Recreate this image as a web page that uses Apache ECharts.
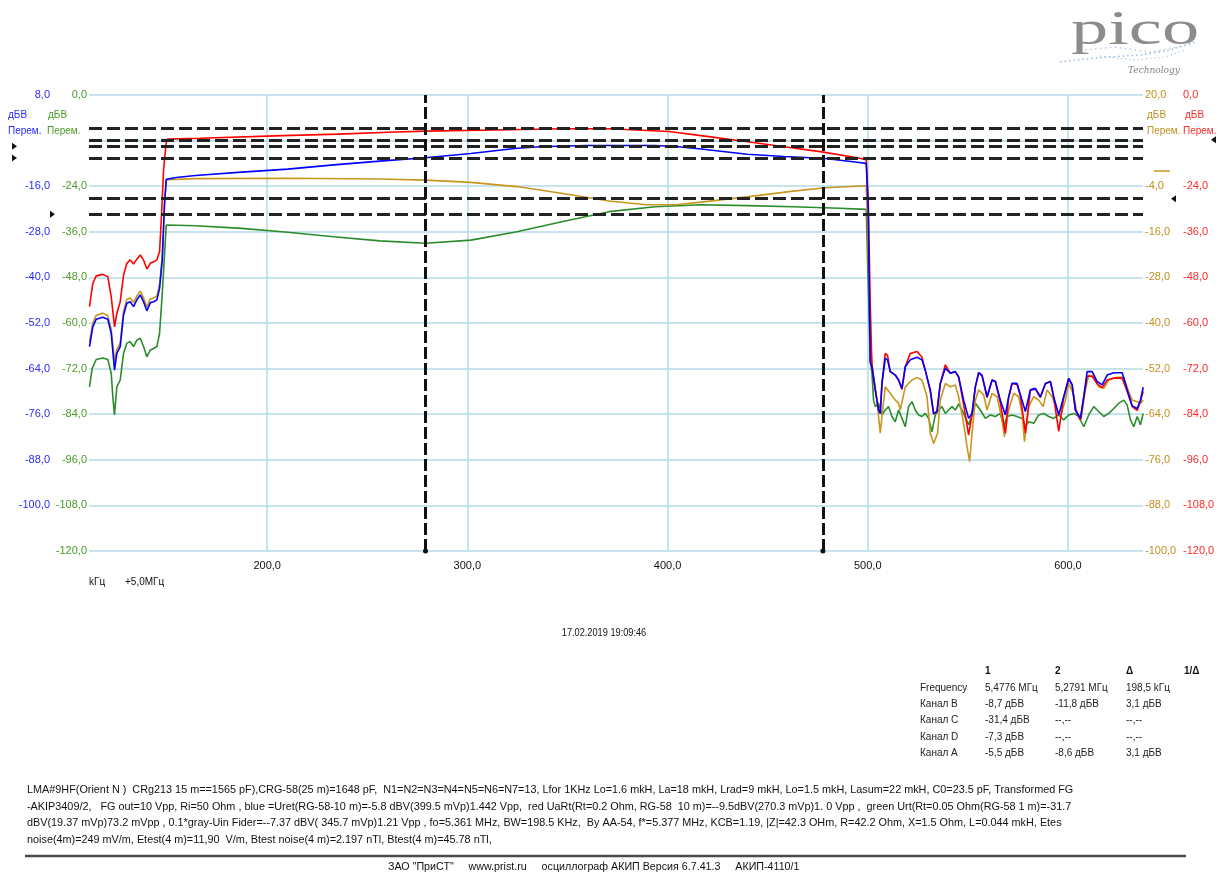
<!DOCTYPE html>
<html><head><meta charset="utf-8">
<script src="https://cdn.jsdelivr.net/npm/echarts@6/dist/echarts.min.js"></script>
<style>html,body{margin:0;padding:0;background:#fff}#c{width:1220px;height:872px}</style>
</head><body><div id="c"></div>
<script>
// ---------------- DATA ----------------
const xTicks = [200, 300, 400, 500, 600];
const greenTicks = [0, -24, -36, -48, -60, -72, -84, -96, -108, -120];
const blueTicks  = [8, -16, -28, -40, -52, -64, -76, -88, -100];
const goldTicks  = [20, -4, -16, -28, -40, -52, -64, -76, -88, -100];
const redTicks   = [0, -24, -36, -48, -60, -72, -84, -96, -108, -120];

const cursorFreq = [477.6, 279.1];
const markA = [-5.5, -8.6];   // blue
const markB = [-8.7, -11.8];  // red
const markC = [-31.4];        // green
const markD = [-7.3];         // gold

const redF = [111.25,112.9,114.6,117.9,120.4,122.1,123.75,124.9,126.6,128.25,129.9,131.6,133.25,134.9,136.6,138.25,139.9,141.6,143.25,144.9,146.25,147.1,148.25,149.6,
  150.25,166.5,207.75,235.25,260.75,279,313.25,347.75,370.75,384.75,400.75,416.75,437.25,458.25,476.25,494.75,499.25,500.25,501.25,
  502.1,503.75,505.4,506.25,507.1,508.75,509.9,511.25,513.75,515.4,517.1,518.75,521.25,524.6,527.1,528.75,531.25,532.9,534.6,536.25,538.75,541.25,543.75,545.4,547.9,550.4,552.1,553.75,555.4,557.1,559.6,562.1,563.75,566.25,568.75,570.4,572.1,574.6,576.25,578.75,581.25,583.75,586.25,588.75,591.25,592.9,595.4,597.9,600.4,602.1,603.75,606.25,607.9,609.6,612.1,614.6,617.1,619.6,622.9,627.1,629.6,632.1,634.6,636.25,637.6];
const redV = [-55.7,-49.6,-47.6,-47.2,-47.8,-53.1,-61.0,-57.5,-54.4,-47.4,-44.3,-43.4,-44.5,-43.2,-42.1,-43.4,-45.8,-44.3,-43.9,-43.4,-41.2,-32.9,-19.7,-12.3,
  -11.6,-11.4,-10.7,-10.3,-9.8,-9.5,-9.2,-8.9,-8.9,-9.2,-9.6,-10.7,-12.1,-13.6,-14.9,-16.5,-17.0,-28,-55,
  -71.5,-77.6,-82.9,-83.8,-75.9,-68.0,-68.5,-72.8,-73.7,-75.0,-77.5,-71.5,-68.0,-67.5,-69.0,-72.6,-78.0,-84.0,-83.3,-75.9,-71.0,-73.2,-72.8,-74.3,-81.5,-89.5,-84.0,-76.8,-73.1,-73.9,-79.6,-75.0,-75.4,-81.0,-89.0,-79.6,-75.9,-76.2,-79.2,-89.0,-77.6,-77.4,-79.6,-76.0,-75.4,-79.6,-88.5,-79.6,-74.6,-76.3,-83.0,-85.5,-79.6,-74.0,-74.0,-76.0,-77.0,-75.0,-74.5,-74.5,-78.0,-82.0,-83.0,-80.5,-78.0];

const blueF = [111.25,112.9,114.6,117.9,120.4,122.1,123.75,124.9,126.6,128.25,129.9,131.6,133.25,134.9,136.6,138.25,139.9,141.6,143.25,144.9,146.25,147.6,148.75,149.6,
  154.6,164.25,187.25,210.25,233.25,256.25,279,301.75,324.75,336.25,359.25,393.75,405.25,416.75,439.75,458.25,478.75,494.75,499.25,500.25,501.25,
  502.1,503.75,505.4,506.25,507.1,508.75,509.9,511.25,513.75,515.4,517.1,518.75,521.25,524.6,527.1,528.75,531.25,532.9,534.6,536.25,538.75,541.25,543.75,545.4,547.9,550.4,552.1,553.75,555.4,557.1,559.6,562.1,563.75,566.25,568.75,570.4,572.1,574.6,576.25,578.75,581.25,583.75,586.25,588.75,591.25,592.9,595.4,597.9,600.4,602.1,603.75,606.25,607.9,609.6,612.1,614.6,617.1,619.6,622.9,627.1,629.6,632.1,634.6,636.25,637.6];
const blueV = [-58.2,-53.0,-51.0,-50.5,-51.0,-54.7,-64.4,-60.0,-58.2,-49.9,-46.8,-46.4,-47.7,-45.9,-44.6,-46.4,-48.8,-46.7,-46.4,-45.9,-42.9,-35.4,-20.5,-14.2,
  -13.7,-13.2,-12.3,-11.5,-10.4,-9.4,-8.5,-7.4,-6.0,-5.6,-5.3,-5.3,-5.6,-6.2,-7.6,-8.2,-8.7,-9.7,-10.0,-22,-62.5,
  -63.5,-69.6,-74.9,-75.8,-67.9,-61.3,-61.7,-64.8,-65.7,-67.0,-69.2,-63.5,-61.7,-61.0,-61.7,-64.4,-69.6,-75.8,-75.3,-67.9,-63.9,-65.2,-64.8,-66.1,-72.3,-77.1,-75.8,-68.8,-65.1,-65.7,-71.4,-67.0,-67.4,-72.3,-76.2,-71.4,-67.9,-67.9,-70.9,-75.3,-69.6,-69.2,-71.4,-67.9,-67.4,-71.4,-76.2,-71.4,-66.6,-68.3,-74.9,-77.1,-71.4,-64.8,-64.8,-67.4,-68.3,-65.7,-65.1,-65.1,-69.6,-73.8,-74.5,-72.3,-68.9];

const goldF = [111.25,112.9,114.6,117.9,120.4,122.1,123.75,124.9,126.6,128.25,129.9,131.6,133.25,134.9,136.6,138.25,139.9,141.6,143.25,144.9,146.25,147.6,148.75,149.6,
  164.25,210.25,256.25,279,301.75,324.75,347.75,370.75,389.25,405.25,416.75,439.75,462.75,478.75,499.25,500.25,501.25,
  502.1,504.6,506.25,507.1,508.75,511.25,513.75,515.4,516.25,518.75,522.1,524.6,527.1,529.6,531.25,532.9,534.9,536.25,538.75,541.25,543.75,545.4,547.9,549.6,550.9,552.1,553.75,555.4,557.9,559.6,562.1,564.6,567.1,568.3,570.4,572.9,575.4,577.1,578.3,580.4,582.9,585.4,587.6,589.6,592.1,594.6,596.25,598.75,600.4,602.6,604.6,606.6,608.75,610.4,612.9,615.4,617.9,620.4,624.6,627.9,630.4,632.1,634.6,636.25,637.6];
const goldV = [-45.0,-40.0,-38.0,-37.4,-38.0,-41.6,-50.0,-47.0,-45.2,-36.9,-33.8,-33.4,-34.6,-32.9,-31.6,-33.4,-35.8,-33.7,-33.4,-32.9,-29.9,-22.4,-8.0,-2.3,
  -2.0,-1.9,-2.1,-2.4,-3.0,-4.1,-5.9,-7.9,-8.9,-8.8,-8.2,-6.8,-5.3,-4.4,-3.9,-20,-45,
  -50.6,-60.3,-69.0,-64.6,-56.8,-58.5,-60.3,-61.1,-62.9,-56.8,-55.0,-54.3,-55.0,-59.4,-69.0,-71.7,-69.0,-60.3,-55.9,-56.8,-56.3,-59.4,-66.4,-72.6,-76.5,-69.0,-60.3,-57.6,-58.9,-62.9,-58.5,-59.4,-65.5,-69.9,-62.9,-58.5,-59.4,-63.8,-71.2,-62.0,-59.4,-60.3,-62.0,-57.6,-59.4,-62.9,-64.6,-60.3,-55.9,-58.5,-63.8,-65.1,-57.6,-53.7,-54.1,-56.8,-57.2,-55.0,-54.3,-54.3,-58.1,-60.3,-60.7,-61.1,-60.3];

const greenF = [111.25,112.6,114.6,117.9,120.4,122.1,122.9,123.75,124.9,126.6,128.25,129.9,131.6,133.25,134.9,136.6,138.25,139.9,141.6,143.25,144.9,146.25,147.6,148.75,149.6,
  164.25,187.25,210.25,233.25,256.25,279,301.75,324.75,347.75,370.75,393.75,416.75,439.75,462.75,485.75,499.25,500.25,501.25,
  502.1,502.9,503.75,505.4,507.1,508.75,510.4,512.1,513.75,515.4,517.1,518.75,520.4,522.1,523.75,525.4,527.1,528.75,530.4,532.1,533.75,535.4,537.1,538.75,540.4,542.1,543.75,545.4,547.9,550.4,552.1,553.75,556.25,558.75,561.25,563.75,566.25,567.9,569.6,572.1,574.6,577.1,578.75,580.4,582.9,585.4,587.9,590.4,592.9,595.4,597.9,600.4,602.9,605.4,607.9,610.4,612.9,615.4,617.9,620.4,622.9,625.4,627.9,629.6,631.25,632.9,634.6,636.25,637.6];
const greenV = [-76.8,-71.9,-69.6,-69.2,-69.6,-73.2,-79.4,-84.2,-76.8,-75.0,-68.0,-65.3,-64.9,-66.2,-64.5,-64.0,-66.2,-68.9,-67.1,-66.7,-66.2,-62.7,-52.2,-41.7,-34.2,
  -34.4,-35.1,-36.1,-37.3,-38.4,-39.0,-38.2,-36.0,-33.3,-30.7,-29.4,-28.9,-29.1,-29.4,-29.8,-30.1,-50,-69.7,
  -73.2,-80.3,-82.0,-81.1,-84.2,-82.9,-82.0,-84.6,-86.0,-82.9,-85.1,-87.3,-82.0,-80.7,-82.9,-84.2,-84.6,-83.8,-85.1,-88.6,-84.2,-82.9,-82.0,-83.8,-82.9,-82.0,-82.9,-81.3,-83.8,-86.8,-84.2,-81.1,-82.9,-85.1,-84.2,-84.6,-83.8,-87.3,-84.6,-84.2,-84.6,-85.1,-87.3,-86.0,-86.4,-84.2,-83.8,-84.6,-85.1,-84.2,-85.5,-84.2,-83.8,-84.6,-87.3,-84.2,-82.0,-83.3,-84.6,-83.8,-82.5,-81.1,-80.3,-81.6,-85.5,-87.3,-84.6,-86.8,-83.8];

const tableHead = ['1', '2', 'Δ', '1/Δ'];
const tableRows = [
  ['Frequency', '5,4776 МГц', '5,2791 МГц', '198,5 kГц'],
  ['Канал B', '-8,7 дБВ', '-11,8 дБВ', '3,1 дБВ'],
  ['Канал C', '-31,4 дБВ', '--,--', '--,--'],
  ['Канал D', '-7,3 дБВ', '--,--', '--,--'],
  ['Канал A', '-5,5 дБВ', '-8,6 дБВ', '3,1 дБВ']
];
const notes = [
  'LMA#9HF(Orient N )  CRg213 15 m==1565 pF),CRG-58(25 m)=1648 pF,  N1=N2=N3=N4=N5=N6=N7=13, Lfor 1KHz Lo=1.6 mkH, La=18 mkH, Lrad=9 mkH, Lo=1.5 mkH, Lasum=22 mkH, C0=23.5 pF, Transformed FG',
  '-AKIP3409/2,   FG out=10 Vpp, Ri=50 Ohm , blue =Uret(RG-58-10 m)=-5.8 dBV(399.5 mVp)1.442 Vpp,  red UaRt(Rt=0.2 Ohm, RG-58  10 m)=--9.5dBV(270.3 mVp)1. 0 Vpp ,  green Urt(Rt=0.05 Ohm(RG-58 1 m)=-31.7',
  'dBV(19.37 mVp)73.2 mVpp , 0.1*gray-Uin Fider=--7.37 dBV( 345.7 mVp)1.21 Vpp , fo=5.361 MHz, BW=198.5 KHz,  By AA-54, f*=5.377 MHz, KCB=1.19, |Z|=42.3 OHm, R=42.2 Ohm, X=1.5 Ohm, L=0.044 mkH, Etes',
  'noise(4m)=249 mV/m, Etest(4 m)=11,90  V/m, Btest noise(4 m)=2.197 nTl, Btest(4 m)=45.78 nTl,'
];
const footer = 'ЗАО "ПриСТ"     www.prist.ru     осциллограф АКИП Версия 6.7.41.3     АКИП-4110/1';
const dateText = '17.02.2019 19:09:46';

// ---------------- CHART ----------------
const C = { red: '#ff0000', blue: '#0000ff', green: '#2a8c2a', gold: '#c8961e',
            redT: '#ff2a2a', blueT: '#2a2aff', greenT: '#4c9a2a', goldT: '#c09020' };
const FONT = 'Liberation Sans';
const gridColor = '#b5dbe8';
const fmt = v => Number(v).toFixed(1).replace('.', ',');
const zip = (F, V) => F.map((f, i) => [f, V[i]]);

const chart = echarts.init(document.getElementById('c'), null, { renderer: 'canvas', width: 1220, height: 872 });

function yAxis(pos, offset, min, max, ticks, color, split) {
  return {
    type: 'value', position: pos, offset: offset, min: min, max: max, interval: 12,
    axisLine: { show: false }, axisTick: { show: false },
    splitLine: { show: split, lineStyle: { color: gridColor, width: 1.5 } },
    axisLabel: { customValues: ticks, formatter: fmt, color: color, margin: 2, fontFamily: FONT, fontSize: 11 }
  };
}
const hDash = { color: '#222', width: 3, type: [13, 5] };
function hMarks(vals) {
  return { silent: true, symbol: 'none', animation: false, label: { show: false },
           lineStyle: hDash, data: vals.map(v => ({ yAxis: v })) };
}
function lineSeries(name, F, V, color, yIdx, marks) {
  const s = { name: name, type: 'line', data: zip(F, V), yAxisIndex: yIdx, showSymbol: false, symbol: 'none',
              animation: false, lineStyle: { color: color, width: 1.6 }, itemStyle: { color: color }, clip: true };
  if (marks) s.markLine = marks;
  return s;
}

const option = {
  backgroundColor: '#ffffff',
  animation: false,
  grid: { left: 89, top: 95, width: 1054, height: 456 },
  xAxis: {
    type: 'value', min: 111, max: 637.5,
    axisLine: { show: false },
    axisTick: { show: false, customValues: xTicks },
    splitLine: { show: true, lineStyle: { color: gridColor, width: 1.5 } },
    axisLabel: { customValues: xTicks, formatter: fmt, color: '#111', margin: 9, fontFamily: FONT, fontSize: 11 }
  },
  yAxis: [
    yAxis('left', 0, -120, 0, greenTicks, C.greenT, true),
    yAxis('left', 37, -112, 8, blueTicks, C.blueT, false),
    yAxis('right', 0, -100, 20, goldTicks, C.goldT, false),
    yAxis('right', 38, -120, 0, redTicks, C.redT, false)
  ],
  series: [
    lineSeries('Канал C', greenF, greenV, C.green, 0, hMarks(markC)),
    lineSeries('Канал D', goldF, goldV, C.gold, 2, hMarks(markD)),
    lineSeries('Канал B', redF, redV, C.red, 3, hMarks(markB)),
    lineSeries('Канал A', blueF, blueV, C.blue, 1, {
      silent: true, animation: false, label: { show: false },
      data: markA.map(v => ({ yAxis: v, symbol: 'none', lineStyle: hDash }))
        .concat(cursorFreq.map(f => ({ xAxis: f })) ),
      symbol: ['circle', 'none'], symbolSize: 5,
      lineStyle: { color: '#111', width: 3, type: [12, 4] },
      itemStyle: { color: '#333' }
    })
  ]
};
chart.setOption(option);

// ---------------- DECORATIONS ----------------
const g = [];
function txt(x, y, s, opt) {
  opt = opt || {};
  g.push({ type: 'text', x: x, y: y, silent: true, z: 100,
    style: { text: s, fill: opt.fill || '#111', fontFamily: opt.family || FONT, fontSize: opt.size || 10,
             fontWeight: opt.weight || 'normal', fontStyle: opt.style || 'normal',
             textAlign: opt.align || 'left', textVerticalAlign: 'middle' },
    scaleX: opt.sx || 1, scaleY: opt.sy || 1 });
}
// unit labels
txt(8, 115, 'дБВ', { fill: C.blueT, size: 10 });
txt(48, 115, 'дБВ', { fill: C.greenT, size: 10 });
txt(8, 131, 'Перем.', { fill: C.blueT, size: 10 });
txt(47, 131, 'Перем.', { fill: C.greenT, size: 10 });
txt(1147, 115, 'дБВ', { fill: C.goldT, size: 10 });
txt(1185, 115, 'дБВ', { fill: C.redT, size: 10 });
txt(1147, 131, 'Перем.', { fill: C.goldT, size: 10 });
txt(1183, 131, 'Перем.', { fill: C.redT, size: 10 });

// channel marker triangles, placed through the axes' scales
function tri(x, yPix, dir) {
  const pts = dir > 0 ? [[x, yPix - 3.5], [x + 5, yPix], [x, yPix + 3.5]] : [[x + 5, yPix - 3.5], [x, yPix], [x + 5, yPix + 3.5]];
  g.push({ type: 'polygon', silent: true, z: 100, shape: { points: pts }, style: { fill: '#111' } });
}
markA.forEach(v => tri(12, chart.convertToPixel({ yAxisIndex: 1 }, v), 1));
markC.forEach(v => tri(50, chart.convertToPixel({ yAxisIndex: 0 }, v), 1));
markD.forEach(v => tri(1171, chart.convertToPixel({ yAxisIndex: 2 }, v), -1));
tri(1211, chart.convertToPixel({ yAxisIndex: 3 }, markB[1]), -1);
// gold zero reference tick
const gz = chart.convertToPixel({ yAxisIndex: 2 }, 0);
g.push({ type: 'line', silent: true, shape: { x1: 1154, y1: gz, x2: 1170, y2: gz }, style: { stroke: C.gold, lineWidth: 1.5 } });

// x unit
txt(89, 582, 'kГц', { size: 10 });
txt(125, 582, '+5,0МГц', { size: 10 });
// date
txt(604, 633, dateText, { size: 10, align: 'center', sx: 0.92 });

// table
const colX = [920, 985, 1055, 1126, 1184];
tableHead.forEach((h, i) => txt(colX[i + 1], 671, h, { weight: 'bold', size: 10 }));
tableRows.forEach((row, r) => row.forEach((cell, c) => txt(colX[c], 688 + r * 16.3, cell, { size: 10, fill: '#222' })));

// notes
notes.forEach((line, i) => txt(27, 790 + i * 16.5, line, { size: 11, fill: '#111', sx: 0.985 }));
g.push({ type: 'line', silent: true, shape: { x1: 25, y1: 856, x2: 1186, y2: 856 }, style: { stroke: '#4a4a4a', lineWidth: 2.5 } });
txt(388, 867, footer, { size: 10.7, fill: '#111' });

// pico logo
g.push({ type: 'polyline', silent: true, shape: { points: [[1060, 62], [1095, 58], [1140, 55], [1170, 50], [1195, 42]] },
  style: { stroke: '#9dbbdc', lineWidth: 1.5, lineDash: [1.5, 3], fill: null } });
g.push({ type: 'polyline', silent: true, shape: { points: [[1085, 50], [1115, 47], [1150, 52], [1178, 47], [1192, 44]] },
  style: { stroke: '#b4cce6', lineWidth: 1.5, lineDash: [1.5, 3.5], fill: null } });
g.push({ type: 'polyline', silent: true, shape: { points: [[1100, 56], [1135, 60], [1165, 57], [1185, 50]] },
  style: { stroke: '#aac4e2', lineWidth: 1.2, lineDash: [1.2, 3], fill: null } });
g.push({ type: 'text', x: 1071, y: 31, silent: true, scaleX: 1.55, scaleY: 1, z: 50,
  style: { text: 'pico', fill: '#8c8c8c', fontFamily: 'Liberation Serif', fontSize: 48, textVerticalAlign: 'middle', textAlign: 'left' } });
g.push({ type: 'text', x: 1128, y: 71, silent: true,
  style: { text: 'Technology', fill: '#808080', fontFamily: 'DejaVu Serif', fontSize: 9, fontStyle: 'italic', textVerticalAlign: 'middle' } });

chart.setOption({ graphic: g });
</script>
</body></html>
